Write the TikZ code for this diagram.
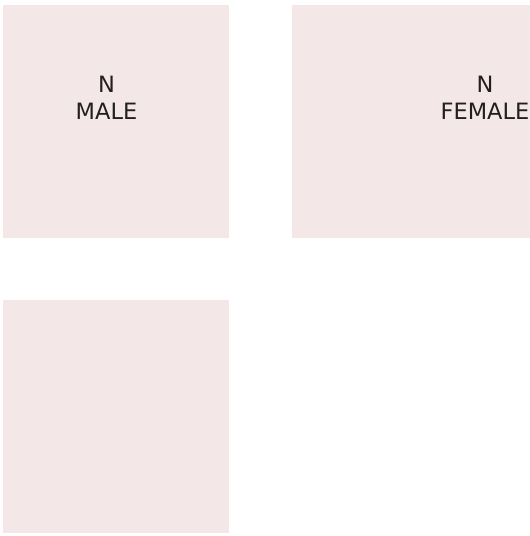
\documentclass[tikz,border=0pt]{standalone}
\usepackage{fontspec}
\setmainfont{DejaVu Sans}
\definecolor{boxpink}{HTML}{F4E7E8}
\definecolor{txt}{HTML}{231F20}
\begin{document}
\begin{tikzpicture}[x=1pt,y=-1pt,
  panel/.style={fill=boxpink,draw=none},
  lbl/.style={text=txt,font=\fontsize{22.5}{27}\selectfont,align=center,inner sep=0pt}]
\useasboundingbox (0,0) rectangle (530,536);
\fill[white] (0,0) rectangle (530,536);
\path[panel] (3,5) rectangle (229,238) coordinate (tl);
\path[panel] (292,5) rectangle (530,238) coordinate (tr);
\path[panel] (3,300) rectangle (229,533) coordinate (bl);
\node[lbl] (male) at (106.5,98) {N\\MALE};
\node[lbl] (female) at (485,98) {N\\FEMALE};
\end{tikzpicture}
\end{document}
